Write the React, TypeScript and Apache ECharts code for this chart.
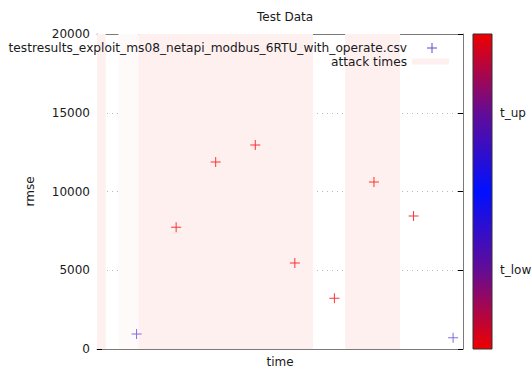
import React, { useEffect, useRef } from "react";
import * as echarts from "echarts";

// ---- data ----
const times = [1, 2, 3, 4, 5, 6, 7, 8, 9];
const rmse = [950, 7730, 11870, 12950, 5460, 3230, 10600, 8450, 720];
const pointColors = ["#6446dc", "#ff0000", "#ff0000", "#ff0000", "#ff0000", "#ff0000", "#ff0000", "#ff0000", "#6446dc"];
const attackStart = [0, 0.54, 1.05, 6.27];
const attackEnd = [0.22, 1.05, 5.46, 7.66];
const attackColors = ["#fff0f0", "#fffafa", "#fff0f0", "#fff0f0"];
const yTicks = [0, 5000, 10000, 15000, 20000];
const cbTickValues = [5000, 15000];
const cbTickLabels = ["t_low", "t_up"];
const fileName = "testresults_exploit_ms08_netapi_modbus_6RTU_with_operate.csv";

const FONT = "DejaVu Sans";
const TXT = "#1a1a1a";
const BORDER = "#7a7a7a";
const PLUS = "path://M0,4.5h10v1h-10z M4.5,0h1v10h-1z";

export default function App() {
  const ref = useRef<HTMLDivElement>(null);
  useEffect(() => {
    if (!ref.current) return;
    const chart = echarts.init(ref.current, null, { renderer: "svg" });
    const commonY = {
      type: "value",
      min: yTicks[0],
      max: yTicks[yTicks.length - 1],
      interval: 5000,
    };
    chart.setOption({
      animation: false,
      textStyle: { fontFamily: FONT },
      title: {
        text: "Test Data",
        left: 252,
        top: 6,
        textStyle: { fontFamily: FONT, fontSize: 12, fontWeight: "normal", color: TXT },
      },
      grid: [
        { left: 97, right: 69, top: 34, bottom: 20, outerBoundsMode: "none", containLabel: false },
        { left: 473, right: 40, top: 34, bottom: 20, outerBoundsMode: "none", containLabel: false },
      ],
      xAxis: [
        {
          gridIndex: 0,
          type: "value",
          min: 0,
          max: 9.25,
          name: "time",
          nameLocation: "middle",
          nameGap: 7,
          nameTextStyle: { fontFamily: FONT, fontSize: 12, color: TXT },
          axisLine: { show: true, onZero: false, lineStyle: { color: BORDER, width: 1 } },
          axisTick: { show: false },
          axisLabel: { show: false },
          splitLine: { show: false },
        },
        {
          gridIndex: 0,
          type: "value",
          position: "top",
          min: 0,
          max: 9.25,
          axisLine: { show: true, onZero: false, lineStyle: { color: BORDER, width: 1 } },
          axisTick: { show: false },
          axisLabel: { show: false },
          splitLine: { show: false },
        },
        {
          gridIndex: 1,
          type: "value",
          show: false,
        },
      ],
      yAxis: [
        {
          ...commonY,
          gridIndex: 0,
          position: "left",
          name: "rmse",
          nameLocation: "middle",
          nameGap: 61,
          nameTextStyle: { fontFamily: FONT, fontSize: 12, color: TXT },
          axisLine: { show: true, onZero: false, lineStyle: { color: BORDER, width: 1 } },
          axisTick: { show: true, inside: true, length: 5, lineStyle: { color: "#000" } },
          axisLabel: { fontFamily: FONT, fontSize: 12, color: TXT, margin: 7, formatter: (v: number) => String(v) },
          splitLine: { show: true, lineStyle: { color: "#b8b8b8", type: [1, 4], width: 1 } },
        },
        {
          ...commonY,
          gridIndex: 0,
          position: "right",
          axisLine: { show: true, onZero: false, lineStyle: { color: BORDER, width: 1 } },
          axisTick: { show: true, inside: true, length: 5, lineStyle: { color: "#000" } },
          axisLabel: { show: false },
          splitLine: { show: false },
        },
        {
          ...commonY,
          gridIndex: 1,
          position: "right",
          axisLine: { show: false },
          axisTick: { show: true, inside: false, length: 5, customValues: cbTickValues, lineStyle: { color: "#000" } },
          axisLabel: {
            fontFamily: FONT,
            fontSize: 12,
            color: TXT,
            margin: 8,
            customValues: cbTickValues,
            formatter: (v: number) => cbTickLabels[cbTickValues.indexOf(v)] ?? "",
          },
          splitLine: { show: false },
        },
        {
          ...commonY,
          gridIndex: 1,
          position: "right",
          axisLine: { show: false },
          axisTick: { show: true, inside: true, length: 5, customValues: cbTickValues, lineStyle: { color: "#000" } },
          axisLabel: { show: false },
          splitLine: { show: false },
        },
      ],
      graphic: [
        {
          type: "rect",
          z: 1,
          shape: { x: 473, y: 34, width: 19, height: 315 },
          style: {
            fill: new echarts.graphic.LinearGradient(0, 0, 0, 1, [
              { offset: 0, color: "#ee0000" },
              { offset: 0.25, color: "#640c96" },
              { offset: 0.5, color: "#0010ff" },
              { offset: 0.75, color: "#640c96" },
              { offset: 1, color: "#ee0000" },
            ]),
            stroke: "#333",
            lineWidth: 1,
          },
        },
        {
          type: "text",
          z: 10,
          x: 407,
          y: 48,
          style: { text: fileName, fill: TXT, font: `12.2px "${FONT}"`, align: "right", verticalAlign: "middle" },
        },
        {
          type: "text",
          z: 10,
          x: 407,
          y: 62,
          style: { text: "attack times", fill: TXT, font: `12.2px "${FONT}"`, align: "right", verticalAlign: "middle" },
        },
        {
          type: "rect",
          z: 10,
          shape: { x: 427, y: 47.5, width: 10, height: 1 },
          style: { fill: pointColors[0] },
        },
        {
          type: "rect",
          z: 10,
          shape: { x: 431.5, y: 43, width: 1, height: 10 },
          style: { fill: pointColors[0] },
        },
        {
          type: "rect",
          z: 10,
          shape: { x: 412, y: 58.5, width: 37, height: 6 },
          style: { fill: attackColors[0] },
        },
      ],
      series: [
        {
          type: "scatter",
          xAxisIndex: 0,
          yAxisIndex: 0,
          symbol: PLUS,
          symbolSize: 10,
          data: times.map((t, i) => ({
            value: [t, rmse[i]],
            itemStyle: { color: pointColors[i] },
          })),
          markArea: {
            silent: true,
            data: attackStart.map((s, i) => [
              { xAxis: s, itemStyle: { color: attackColors[i] } },
              { xAxis: attackEnd[i] },
            ]),
          },
          z: 3,
        },
      ],
    });
    return () => chart.dispose();
  }, []);
  return (
    <div
      ref={ref}
      style={{ position: "fixed", left: 0, top: 0, width: 532, height: 369, background: "#fff" }}
    />
  );
}
